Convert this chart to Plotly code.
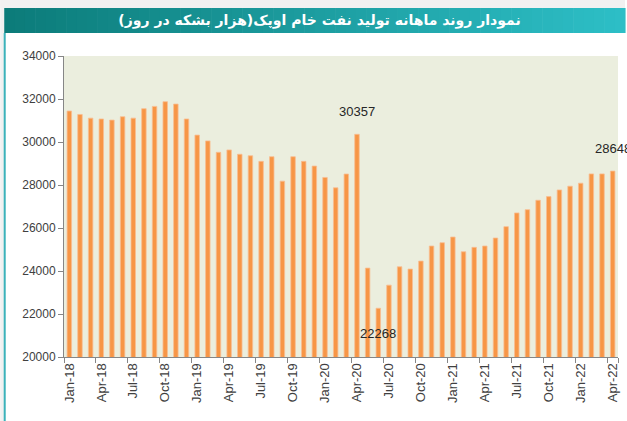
import plotly.graph_objects as go

# ---------------- data ----------------
months = [
    "Jan-18", "Feb-18", "Mar-18", "Apr-18", "May-18", "Jun-18", "Jul-18", "Aug-18", "Sep-18", "Oct-18", "Nov-18", "Dec-18",
    "Jan-19", "Feb-19", "Mar-19", "Apr-19", "May-19", "Jun-19", "Jul-19", "Aug-19", "Sep-19", "Oct-19", "Nov-19", "Dec-19",
    "Jan-20", "Feb-20", "Mar-20", "Apr-20", "May-20", "Jun-20", "Jul-20", "Aug-20", "Sep-20", "Oct-20", "Nov-20", "Dec-20",
    "Jan-21", "Feb-21", "Mar-21", "Apr-21", "May-21", "Jun-21", "Jul-21", "Aug-21", "Sep-21", "Oct-21", "Nov-21", "Dec-21",
    "Jan-22", "Feb-22", "Mar-22", "Apr-22",
]
production = [
    31440, 31280, 31110, 31070, 31020, 31175, 31110, 31550, 31655, 31875, 31765, 31070,
    30320, 30050, 29520, 29630, 29430, 29360, 29100, 29315, 28180, 29315, 29100, 28880,
    28350, 27870, 28510, 30357, 24135, 22268, 23343, 24196, 24090, 24461, 25161, 25315,
    25580, 24895, 25100, 25161, 25535, 26063, 26700, 26853, 27290, 27460, 27770, 27944,
    28084, 28517, 28517, 28648,
]
tick_labels = months[::3]
y_ticks = [20000, 22000, 24000, 26000, 28000, 30000, 32000, 34000]
labelled = {"Apr-20": "above", "Jun-20": "below", "Apr-22": "above"}
title_text = "نمودار روند ماهانه تولید نفت خام اوپک(هزار بشکه در روز)"

# ---------------- layout helpers (pixel -> paper) ----------------
W, H = 627, 421
ML, MR, MT, MB = 64, 7, 56, 64
PW, PH = W - ML - MR, H - MT - MB


def px(xp):
    return (xp - ML) / PW


def py(yp):
    return (H - MB - yp) / PH


fig = go.Figure()
fig.add_trace(go.Bar(
    x=months, y=production,
    marker=dict(color="#F79646", line=dict(color="#F9BE92", width=0.8)),
    width=0.42,
    hoverinfo="x+y",
))

shapes = []
# light background strips (top and left)
shapes.append(dict(type="rect", xref="paper", yref="paper", x0=px(0), x1=px(W), y0=py(0), y1=py(8),
                   fillcolor="#F1F1F1", line=dict(width=0), layer="below"))
shapes.append(dict(type="rect", xref="paper", yref="paper", x0=px(0), x1=px(4), y0=py(0), y1=py(H),
                   fillcolor="#F1F1F1", line=dict(width=0), layer="below"))
# gradient title bar
c0 = (12, 124, 122)
c1 = (45, 190, 198)
n = 60
x_start, x_end = 4, W
for i in range(n):
    t = i / (n - 1)
    col = tuple(int(round(c0[k] + (c1[k] - c0[k]) * t)) for k in range(3))
    xa = x_start + (x_end - x_start) * i / n
    xb = x_start + (x_end - x_start) * (i + 1) / n + 0.6
    shapes.append(dict(type="rect", xref="paper", yref="paper", x0=px(xa), x1=px(xb), y0=py(8), y1=py(33),
                       fillcolor="rgb(%d,%d,%d)" % col, line=dict(width=0), layer="below"))
# left teal border
shapes.append(dict(type="line", xref="paper", yref="paper", x0=px(4.5), x1=px(4.5), y0=py(33), y1=py(H),
                   line=dict(color="#3BB2BA", width=2)))

annotations = []
for m, pos in labelled.items():
    v = production[months.index(m)]
    annotations.append(dict(
        x=m, y=v, xref="x", yref="y", text=str(v), showarrow=False,
        yshift=23 if pos == "above" else -25,
        font=dict(family="Liberation Sans, Arial, sans-serif", size=13, color="#262626"),
    ))

fig.update_layout(
    width=W, height=H,
    margin=dict(l=ML, r=MR, t=MT, b=MB, pad=0),
    paper_bgcolor="white",
    plot_bgcolor="#EBEEDE",
    showlegend=False,
    title=dict(text="<b>" + title_text + "</b>", x=319.5 / W, xref="container", xanchor="center",
               y=1 - 20.5 / H, yref="container", yanchor="middle",
               font=dict(family="DejaVu Sans, Noto Sans, sans-serif", size=14, color="white")),
    shapes=shapes,
    annotations=annotations,
    xaxis=dict(
        type="category", range=[-0.5, len(months) - 0.5],
        tickmode="array", tickvals=tick_labels, ticktext=tick_labels,
        tickson="boundaries", ticks="outside", ticklen=5, tickcolor="#868686",
        tickangle=-90, showline=True, linecolor="#868686", linewidth=1,
        showgrid=False, zeroline=False,
        tickfont=dict(family="Liberation Sans, Arial, sans-serif", size=13, color="#404040"),
    ),
    yaxis=dict(
        range=[20000, 34000], tickmode="array", tickvals=y_ticks,
        ticktext=[str(v) for v in y_ticks],
        ticks="outside", ticklen=5, tickcolor="#868686",
        showline=True, linecolor="#868686", linewidth=1,
        showgrid=False, zeroline=False,
        tickfont=dict(family="Liberation Sans, Arial, sans-serif", size=12, color="#404040"),
    ),
)

fig.write_html(
    "out.html",
    config={"displayModeBar": False},
    post_script="document.body.style.margin='0';document.body.style.overflow='hidden';",
)
